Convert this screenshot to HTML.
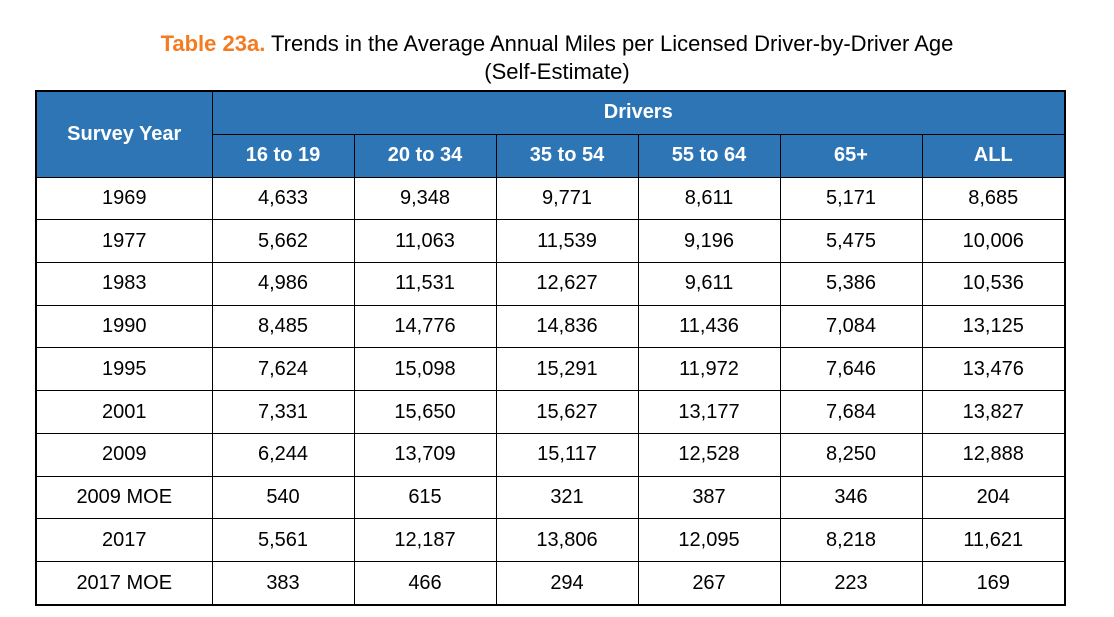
<!DOCTYPE html>
<html><head><meta charset="utf-8"><style>
body{margin:0;width:1114px;height:617px;background:#fff;font-family:"Liberation Sans",Arial,sans-serif;overflow:hidden;position:relative}
.title{position:absolute;left:0;top:30px;width:1114px;text-align:center;font-size:22px;line-height:28px;color:#000}
.title b{color:#F47B20}
table{position:absolute;left:35px;top:90px;width:1031px;height:516px;border-collapse:collapse;border:2px solid #000;table-layout:fixed}
td,th{border:1px solid #000;text-align:center;font-size:20px;padding:0;height:40px}
th{background:#2E75B6;color:#fff;font-weight:bold}
</style></head><body>
<div class="title"><b>Table 23a.</b> Trends in the Average Annual Miles per Licensed Driver-by-Driver Age<br>(Self-Estimate)</div>
<table>
<colgroup><col style="width:176px"><col style="width:142px"><col style="width:142px"><col style="width:142px"><col style="width:142px"><col style="width:142px"><col></colgroup>
<tr><th rowspan="2">Survey Year</th><th colspan="6">Drivers</th></tr>
<tr><th>16 to 19</th><th>20 to 34</th><th>35 to 54</th><th>55 to 64</th><th>65+</th><th>ALL</th></tr>
<tr><td>1969</td><td>4,633</td><td>9,348</td><td>9,771</td><td>8,611</td><td>5,171</td><td>8,685</td></tr>
<tr><td>1977</td><td>5,662</td><td>11,063</td><td>11,539</td><td>9,196</td><td>5,475</td><td>10,006</td></tr>
<tr><td>1983</td><td>4,986</td><td>11,531</td><td>12,627</td><td>9,611</td><td>5,386</td><td>10,536</td></tr>
<tr><td>1990</td><td>8,485</td><td>14,776</td><td>14,836</td><td>11,436</td><td>7,084</td><td>13,125</td></tr>
<tr><td>1995</td><td>7,624</td><td>15,098</td><td>15,291</td><td>11,972</td><td>7,646</td><td>13,476</td></tr>
<tr><td>2001</td><td>7,331</td><td>15,650</td><td>15,627</td><td>13,177</td><td>7,684</td><td>13,827</td></tr>
<tr><td>2009</td><td>6,244</td><td>13,709</td><td>15,117</td><td>12,528</td><td>8,250</td><td>12,888</td></tr>
<tr><td>2009 MOE</td><td>540</td><td>615</td><td>321</td><td>387</td><td>346</td><td>204</td></tr>
<tr><td>2017</td><td>5,561</td><td>12,187</td><td>13,806</td><td>12,095</td><td>8,218</td><td>11,621</td></tr>
<tr><td>2017 MOE</td><td>383</td><td>466</td><td>294</td><td>267</td><td>223</td><td>169</td></tr>
</table>
</body></html>
